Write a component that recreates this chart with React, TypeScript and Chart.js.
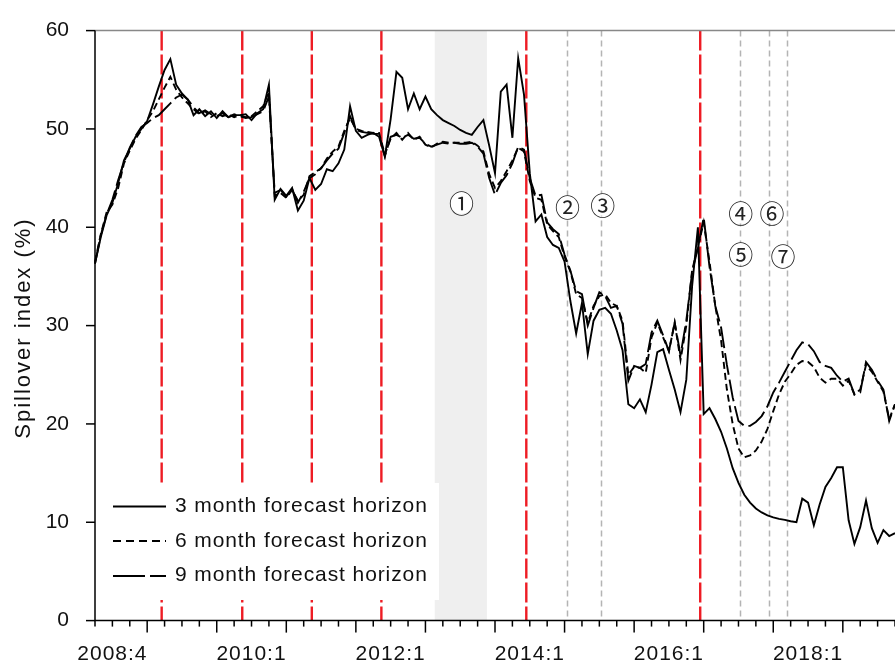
import { useEffect, useRef } from "react";
import { Chart, registerables } from "chart.js";

Chart.register(...registerables);

// Monthly observations, 2008:4 onwards
const START_YEAR = 2008;
const START_MONTH = 4;
const h3 = [
  36.3, 39, 41.2, 42.5, 44.5, 46.8, 48, 49.2, 50, 50.8,
  52.5, 54.3, 56, 57.1, 54.5, 53.6, 53, 51.4, 52, 51.3,
  51.8, 51.1, 51.8, 51.2, 51.4, 51.4, 51.5, 50.9, 51.6, 52,
  54.5, 42.8, 43.9, 43.2, 44, 41.7, 42.7, 45, 43.8, 44.4,
  45.9, 45.7, 46.5, 47.9, 52.3, 49.8, 49.1, 49.4, 49.6, 49.2,
  47.2, 51, 55.8, 55.2, 52, 53.6, 52, 53.3, 52, 51.4,
  50.9, 50.6, 50.3, 49.9, 49.6, 49.4, 50.2, 50.9, 48.3, 45.5,
  53.8, 54.5, 49.1, 57.2, 53.5, 45.5, 40.6, 41.3, 39, 38.2,
  37.9, 36.5, 32.5, 29.2, 32.3, 27.1, 30.5, 31.6, 31.8, 31.2,
  29.5, 27.5, 22, 21.6, 22.5, 21.2, 24, 27.3, 27.6, 25.5,
  23.5, 21.2, 24.5, 34, 40, 21, 21.6, 20.5, 19.2, 17.5,
  15.5, 14, 12.8, 12, 11.4, 11, 10.7, 10.5, 10.35, 10.25,
  10.1, 10, 12.4, 12, 9.7, 11.8, 13.6, 14.5, 15.6, 15.6,
  10.2, 7.8, 9.5, 12.2, 9.4, 7.9, 9.2, 8.6, 8.9,
];
const h6 = [
  36.5, 39.3, 41.5, 42.3, 44, 46.5, 47.8, 49, 49.9, 50.9,
  51.8, 53, 54.2, 55.3, 54, 53.2, 52.6, 52, 51.5, 51.8,
  51.2, 51.6, 51.3, 51.5, 51.2, 51.4, 51.2, 51.3, 51.8, 52.3,
  53.8, 43.2, 43.5, 43, 43.8, 42.7, 43.3, 45.2, 45.6, 46,
  47, 47.7, 48.2, 49.8, 51.1, 50, 49.8, 49.7, 49.6, 49.6,
  47.4, 49, 49.6, 48.9, 49.6, 48.9, 49.2, 48.4, 48.1, 48.5,
  48.7, 48.6, 48.6, 48.6, 48.6, 48.7, 48.3, 47.7, 45.4, 44,
  44.7, 45.7, 46.8, 48.1, 47.7, 44.7, 43, 42.8, 40.3, 39.6,
  39, 37, 35.5, 33.2, 32.8, 30.3, 32, 33, 33.2, 32.3,
  32, 30.5, 25, 25.8, 25.7, 25.2, 28.8, 30.3, 28.8, 27.4,
  30.3, 26.5, 30, 35.6, 38, 40.5, 36.5, 32, 28.5, 23.5,
  20, 17.5, 16.6, 16.8, 17.3, 18.2, 19.5, 21.3, 23, 24.3,
  25.1, 26, 26.4, 26.3, 25.8, 24.7, 24.2, 24.6, 24.6, 23.9,
  24.4, 23, 23.5, 26, 25.3, 24.3, 23.3, 20.5, 22,
];
const h9 = [
  36.3, 39.2, 41.3, 42.8, 44.8, 46.6, 48.1, 49.3, 50.2, 50.6,
  51.1, 51.4, 52, 52.6, 53.2, 53.5, 53, 52.2, 51.6, 51.9,
  51.5, 51.3, 51.6, 51.2, 51.5, 51.3, 51.1, 51.2, 51.5, 51.8,
  53.3, 43.5, 43.8, 43.1, 43.9, 42.5, 43.6, 45, 45.4, 46,
  46.8, 47.5, 48, 49.6, 51.3, 49.9, 49.7, 49.6, 49.5, 49.5,
  47.2, 49.2, 49.4, 49.1, 49.4, 49, 49.1, 48.5, 48.2, 48.4,
  48.6, 48.5, 48.6, 48.5, 48.5, 48.6, 48.2, 47.5, 45, 43.3,
  44.5, 45.3, 46.5, 48.2, 47.9, 45, 43.2, 43.3, 40.5, 39.8,
  39.3, 37.2, 35.6, 33.5, 33.2, 30, 31.8, 33.4, 33, 31.8,
  32, 30.2, 24.4, 25.9, 25.7, 26.1, 29.3, 30.5, 29, 27.4,
  30.3, 27, 30.5, 35.4, 37.9, 41, 36, 32, 29.8, 26,
  22.7, 20.3, 19.8, 19.8, 20.2, 20.8, 21.8, 23.2, 24.2, 25.3,
  26.4, 27.5, 28.3, 28.1, 27.4, 26.3, 25.9, 25.7, 24.9, 24.3,
  24.6, 23, 23.2, 26.3, 25.5, 24.4, 23.5, 20.3, 22,
];

const months: string[] = h3.map((_, i) => {
  const t = START_MONTH - 1 + i;
  return `${START_YEAR + Math.floor(t / 12)}:${(t % 12) + 1}`;
});

const seriesNames = [
  "3 month forecast horizon",
  "6 month forecast horizon",
  "9 month forecast horizon",
];
const xTickLabels = ["2008:4", "2010:1", "2012:1", "2014:1", "2016:1", "2018:1"];
const xTickCenters = [3, 27, 51, 75, 99, 123]; // month index of label centre
const yTicks = [0, 10, 20, 30, 40, 50, 60];

// event markers (month index)
const redEvents = [11.5, 25.4, 37.4, 49.4, 74.4, 104.4];
const grayEvents = [81.35, 87.35, 111.3, 116.3, 119.3];
const bandRange = [58.6, 67.6];
const markTexts = ["①", "②", "③", "④", "⑥", "⑤", "⑦"];
const markAt = [63.2, 81.5, 87.6, 111.4, 116.8, 111.4, 118.7];
const markVal = [42.5, 42.1, 42.3, 41.5, 41.5, 37.3, 37.1];

const FONT = "'Liberation Sans', Arial, sans-serif";

function setSpacing(ctx: any, v: string) {
  try {
    ctx.letterSpacing = v;
  } catch (e) {}
}

const decor = {
  id: "decor",
  beforeDatasetsDraw(chart: any) {
    const { ctx, chartArea: a, scales } = chart;
    const x = scales.x;
    ctx.save();
    const b0 = x.getPixelForValue(bandRange[0]);
    const b1 = x.getPixelForValue(bandRange[1]);
    ctx.fillStyle = "#efefef";
    ctx.fillRect(b0, a.top, b1 - b0, a.bottom - a.top);

    ctx.strokeStyle = "#b4b4b4";
    ctx.lineWidth = 1.5;
    ctx.setLineDash([6, 4]);
    grayEvents.forEach((m) => {
      const px = Math.round(x.getPixelForValue(m)) + 0.5;
      ctx.beginPath();
      ctx.moveTo(px, a.top);
      ctx.lineTo(px, a.bottom);
      ctx.stroke();
    });

    ctx.strokeStyle = "#ee1c24";
    ctx.lineWidth = 2.4;
    ctx.setLineDash([20, 4]);
    redEvents.forEach((m) => {
      const px = x.getPixelForValue(m);
      ctx.beginPath();
      ctx.moveTo(px, a.top);
      ctx.lineTo(px, a.bottom);
      ctx.stroke();
    });
    ctx.restore();
  },
  afterDatasetsDraw(chart: any) {
    const { ctx, chartArea: a, scales } = chart;
    const x = scales.x;
    const y = scales.y;
    ctx.save();
    ctx.setLineDash([]);

    // legend box
    ctx.fillStyle = "#ffffff";
    ctx.fillRect(a.left + 1, 483, 343, 117);
    const rowsLine = [506.5, 541, 576];
    const rowsText = [512, 546.5, 581];
    const dashes = [[], [8, 5], [32, 5]];
    ctx.strokeStyle = "#000";
    ctx.lineWidth = 2;
    rowsLine.forEach((ry, i) => {
      ctx.setLineDash(dashes[i]);
      ctx.beginPath();
      ctx.moveTo(113, ry);
      ctx.lineTo(166, ry);
      ctx.stroke();
    });
    ctx.setLineDash([]);
    ctx.fillStyle = "#111";
    ctx.font = `21px ${FONT}`;
    setSpacing(ctx, "0.9px");
    ctx.textAlign = "left";
    ctx.textBaseline = "alphabetic";
    seriesNames.forEach((s, i) => ctx.fillText(s, 175, rowsText[i]));
    setSpacing(ctx, "0px");

    // circled markers
    ctx.font = `25px 'Noto Sans CJK SC', 'DejaVu Sans', sans-serif`;
    ctx.textAlign = "center";
    ctx.textBaseline = "middle";
    markTexts.forEach((t, i) => {
      const px = x.getPixelForValue(markAt[i]);
      const py = y.getPixelForValue(markVal[i]);
      ctx.fillStyle = "#fff";
      ctx.beginPath();
      ctx.arc(px, py, 11, 0, Math.PI * 2);
      ctx.fill();
      ctx.fillStyle = "#222";
      ctx.fillText(t, px, py + 1);
    });

    // frame
    ctx.strokeStyle = "#888";
    ctx.lineWidth = 1.5;
    ctx.beginPath();
    ctx.moveTo(a.left, a.top);
    ctx.lineTo(a.right, a.top);
    ctx.stroke();
    ctx.strokeStyle = "#000";
    ctx.beginPath();
    ctx.moveTo(a.left, a.top);
    ctx.lineTo(a.left, a.bottom);
    ctx.lineTo(a.right, a.bottom);
    ctx.stroke();

    // y tick marks
    yTicks.forEach((v) => {
      const py = y.getPixelForValue(v);
      ctx.beginPath();
      ctx.moveTo(a.left - 9, py);
      ctx.lineTo(a.left, py);
      ctx.stroke();
    });
    // x tick marks: quarterly, long in January
    ctx.lineWidth = 1.5;
    for (let i = 0; i < months.length; i += 3) {
      const px = x.getPixelForValue(i);
      const isJan = (START_MONTH - 1 + i) % 12 === 0;
      ctx.beginPath();
      ctx.moveTo(px, a.bottom);
      ctx.lineTo(px, a.bottom + (isJan ? 12 : 6));
      ctx.stroke();
    }
    // x labels
    ctx.fillStyle = "#111";
    ctx.font = `21px ${FONT}`;
    setSpacing(ctx, "1px");
    ctx.textAlign = "center";
    ctx.textBaseline = "alphabetic";
    xTickLabels.forEach((t, i) => {
      ctx.fillText(t, x.getPixelForValue(xTickCenters[i]), 660);
    });

    // y title
    ctx.translate(24, 328);
    ctx.rotate(-Math.PI / 2);
    ctx.textBaseline = "middle";
    ctx.font = `22px ${FONT}`;
    setSpacing(ctx, "2px");
    ctx.fillText("Spillover index (%)", 0, 0);
    setSpacing(ctx, "0px");
    ctx.restore();
  },
};

export default function App() {
  const ref = useRef<HTMLCanvasElement | null>(null);
  useEffect(() => {
    if (!ref.current) return;
    const mk = (data: number[], label: string, dash: number[]) => ({
      label,
      data,
      borderColor: "#000",
      borderWidth: 1.9,
      borderDash: dash,
      pointRadius: 0,
      tension: 0,
      fill: false,
    });
    const chart = new Chart(ref.current, {
      type: "line",
      data: {
        labels: months,
        datasets: [
          mk(h3, seriesNames[0], []),
          mk(h6, seriesNames[1], [7, 4]),
          mk(h9, seriesNames[2], [22, 5]),
        ],
      },
      options: {
        animation: false,
        responsive: false,
        maintainAspectRatio: false,
        layout: { padding: { top: 29, right: 0, left: 0, bottom: 0 } },
        plugins: { legend: { display: false }, tooltip: { enabled: false } },
        scales: {
          x: {
            type: "category",
            offset: false,
            grid: { display: false },
            border: { display: false },
            ticks: { display: false },
            afterFit: (s: any) => {
              s.height = 41.4;
            },
          },
          y: {
            min: 0,
            max: 60,
            grid: { display: false },
            border: { display: false },
            ticks: {
              stepSize: 10,
              padding: 18,
              color: "#111",
              font: { family: FONT, size: 21 },
            },
            afterFit: (s: any) => {
              s.width = 95;
            },
          },
        },
      },
      plugins: [decor],
    });
    return () => chart.destroy();
  }, []);
  return (
    <div style={{ position: "absolute", left: 0, top: 0, width: 895, height: 662, background: "#fff" }}>
      <canvas ref={ref} width={895} height={662} style={{ width: 895, height: 662 }} />
    </div>
  );
}
